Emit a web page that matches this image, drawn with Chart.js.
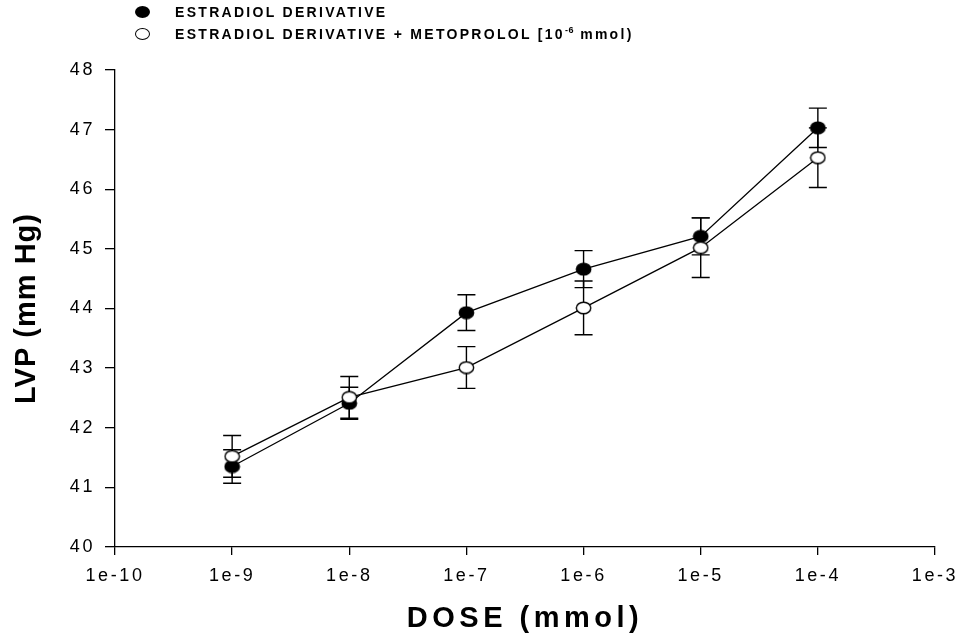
<!DOCTYPE html>
<html><head><meta charset="utf-8">
<script src="https://cdn.jsdelivr.net/npm/chart.js@4.4.1/dist/chart.umd.min.js"></script>
<style>
html,body{margin:0;padding:0;background:#fff;}
#wrap{position:relative;width:958px;height:638px;overflow:hidden;}
canvas{display:block;}
.leg{position:absolute;left:175px;font:bold 14px "Liberation Sans",Arial,sans-serif;letter-spacing:2.3px;line-height:16px;height:16px;white-space:nowrap;color:#000;}
.leg sup{font-size:9px;line-height:0;vertical-align:6px;letter-spacing:0.5px;}
.mk{position:absolute;left:135px;width:15px;height:12px;border-radius:50%;box-sizing:border-box;}
</style></head><body>
<div id="wrap">
<canvas id="c" width="958" height="638"></canvas>
<span class="mk" style="top:6.3px;background:#000"></span>
<div class="leg" style="top:4.4px">ESTRADIOL DERIVATIVE</div>
<span class="mk" style="top:28.3px;border:1.4px solid #000;background:#fff"></span>
<div class="leg" style="top:26.4px">ESTRADIOL DERIVATIVE + METOPROLOL [10<sup>-6</sup> mmol)</div>
</div>
<script>
// ---- data ----
const doses = [1e-9, 1e-8, 1e-7, 1e-6, 1e-5, 1e-4];
const estradiol = [41.35, 42.41, 43.93, 44.66, 45.21, 47.03];
const estradiolSem = [0.28, 0.27, 0.30, 0.31, 0.31, 0.33];
const metoprolol = [41.52, 42.51, 43.01, 44.01, 45.02, 46.53];
const metoprololSem = [0.35, 0.35, 0.35, 0.45, 0.50, 0.50];
const seriesNames = ['ESTRADIOL DERIVATIVE', 'ESTRADIOL DERIVATIVE + METOPROLOL [10-6 mmol)'];
const xTickValues = [1e-10, 1e-9, 1e-8, 1e-7, 1e-6, 1e-5, 1e-4, 1e-3];
const xTickLabels = ['1e-10', '1e-9', '1e-8', '1e-7', '1e-6', '1e-5', '1e-4', '1e-3'];
const yTickValues = [40, 41, 42, 43, 44, 45, 46, 47, 48];
const yTickLabels = ['40', '41', '42', '43', '44', '45', '46', '47', '48'];
const xTitle = 'DOSE (mmol)';
const yTitle = 'LVP (mm Hg)';

const FONT = "'Liberation Sans', Arial, Helvetica, sans-serif";

function ellipseStyle(filled) {
  const c = document.createElement('canvas');
  c.width = 17; c.height = 14;
  const g = c.getContext('2d');
  g.beginPath();
  g.ellipse(8.5, 7, 7.2, 5.8, 0, 0, Math.PI * 2);
  g.fillStyle = filled ? '#000' : '#fff';
  g.fill();
  g.lineWidth = 1.4;
  g.strokeStyle = '#000';
  g.stroke();
  return c;
}

const semByDataset = [estradiolSem, metoprololSem];

const errorBars = {
  id: 'errorBars',
  beforeDatasetsDraw(chart) {
    const ctx = chart.ctx, ys = chart.scales.y;
    chart.data.datasets.forEach((ds, i) => {
      const meta = chart.getDatasetMeta(i);
      const sem = semByDataset[i];
      ctx.save();
      ctx.strokeStyle = '#000';
      ctx.lineWidth = 1.4;
      meta.data.forEach((pt, j) => {
        const v = ds.data[j].y, e = sem[j];
        const x = pt.x, y1 = ys.getPixelForValue(v + e), y2 = ys.getPixelForValue(v - e);
        ctx.beginPath();
        ctx.moveTo(x, y1); ctx.lineTo(x, y2);
        ctx.moveTo(x - 9, y1); ctx.lineTo(x + 9, y1);
        ctx.moveTo(x - 9, y2); ctx.lineTo(x + 9, y2);
        ctx.stroke();
      });
      ctx.restore();
    });
  }
};

const spacingCfg = { x: { ticks: '2.6px', title: '4.5px' }, y: { ticks: '2.6px', title: '1px' } };
const letterSpacing = {
  id: 'letterSpacing',
  beforeDraw(chart) {
    Object.keys(spacingCfg).forEach(id => {
      const s = chart.scales[id];
      if (!s || s._lsPatched) return;
      s._lsPatched = true;
      const dl = s.drawLabels, dt = s.drawTitle;
      s.drawLabels = function (a) { const c = this.ctx; c.save(); c.letterSpacing = spacingCfg[id].ticks; dl.call(this, a); c.restore(); };
      s.drawTitle = function () { const c = this.ctx; c.save(); c.letterSpacing = spacingCfg[id].title; dt.call(this); c.restore(); };
    });
  }
};

Chart.defaults.color = '#000';
Chart.defaults.font.family = FONT;

new Chart(document.getElementById('c'), {
  type: 'line',
  data: {
    datasets: [
      {
        label: seriesNames[0],
        data: doses.map((d, i) => ({ x: d, y: estradiol[i] })),
        borderColor: '#000', borderWidth: 1.3,
        pointStyle: ellipseStyle(true), pointRadius: 7,
        order: 2
      },
      {
        label: seriesNames[1],
        data: doses.map((d, i) => ({ x: d, y: metoprolol[i] })),
        borderColor: '#000', borderWidth: 1.3,
        pointStyle: ellipseStyle(false), pointRadius: 7,
        order: 1
      }
    ]
  },
  options: {
    responsive: false,
    animation: false,
    events: [],
    layout: { padding: { left: 0, right: 23, top: 70, bottom: 0 } },
    plugins: { legend: { display: false }, tooltip: { enabled: false } },
    scales: {
      x: {
        type: 'logarithmic',
        min: 1e-10, max: 1e-3,
        afterBuildTicks: s => { s.ticks = xTickValues.map(v => ({ value: v })); },
        afterFit: s => { s.height = 91; s.paddingLeft = 0; s.paddingRight = 0; },
        ticks: {
          autoSkip: false, maxRotation: 0, minRotation: 0,
          padding: 10, color: '#000',
          font: { size: 18, family: FONT },
          callback: (v, i) => xTickLabels[i]
        },
        grid: { display: true, drawOnChartArea: false, drawTicks: true, tickLength: 8, color: '#000', lineWidth: 1.3 },
        border: { display: true, color: '#000', width: 1.3 },
        title: { display: true, text: xTitle, color: '#000', font: { size: 29, weight: 'bold', family: FONT }, padding: { top: 0, bottom: 2 } }
      },
      y: {
        type: 'linear',
        min: 40, max: 48,
        afterBuildTicks: s => { s.ticks = yTickValues.map(v => ({ value: v })); },
        afterFit: s => { s.width = 115; s.paddingTop = 0; s.paddingBottom = 0; },
        ticks: {
          padding: 10, color: '#000',
          font: { size: 18, family: FONT },
          callback: (v, i) => yTickLabels[i]
        },
        grid: { display: true, drawOnChartArea: false, drawTicks: true, tickLength: 10, color: '#000', lineWidth: 1.3 },
        border: { display: true, color: '#000', width: 1.3 },
        title: { display: true, text: yTitle, color: '#000', font: { size: 29, weight: 'bold', family: FONT }, padding: { top: 10, bottom: 0 } }
      }
    }
  },
  plugins: [errorBars, letterSpacing]
});
</script>
</body></html>
